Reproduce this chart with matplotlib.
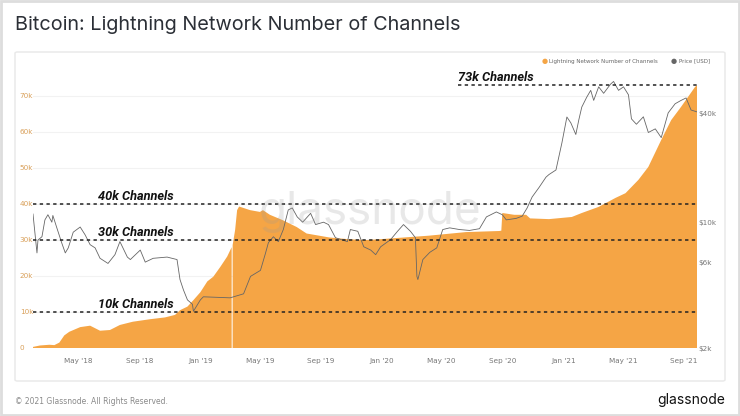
import numpy as np
import pandas as pd
import matplotlib
matplotlib.use("Agg")
import matplotlib.pyplot as plt
import matplotlib.dates as mdates
from matplotlib.patches import FancyBboxPatch, Rectangle

# Número de canais
canais_datas = ["2018-01-29", "2018-02-12", "2018-03-03", "2018-03-13", "2018-03-23", "2018-04-02",
                "2018-04-12", "2018-05-04", "2018-05-24", "2018-06-13", "2018-07-03", "2018-07-23",
                "2018-08-18", "2018-09-22", "2018-10-22", "2018-11-11", "2018-11-21", "2018-12-06",
                "2018-12-18", "2019-01-01", "2019-01-15", "2019-01-27", "2019-02-10", "2019-02-24",
                "2019-03-05", "2019-03-06", "2019-03-07", "2019-03-12", "2019-03-16", "2019-03-20",
                "2019-04-11", "2019-05-01", "2019-05-07", "2019-05-21", "2019-06-16", "2019-07-14",
                "2019-08-03", "2019-09-18", "2019-10-28", "2019-12-01", "2019-12-27", "2020-02-05",
                "2020-04-05", "2020-06-19", "2020-08-25", "2020-08-29", "2020-08-31", "2020-09-24",
                "2020-10-18", "2020-10-26", "2020-12-03", "2021-01-18", "2021-02-07", "2021-03-13",
                "2021-04-16", "2021-05-06", "2021-06-01", "2021-06-21", "2021-07-17", "2021-08-06",
                "2021-08-26", "2021-09-23", "2021-09-27"]
canais = [300, 700, 900, 800, 1500, 3500,
          4500, 5800, 6200, 4800, 5000, 6400,
          7300, 8000, 8500, 9200, 10500, 11500,
          13300, 15500, 18500, 19800, 22500, 25400,
          28000, np.nan, 28600, 32800, 38300, 39300,
          38300, 37800, 38300, 37000, 35500, 33600,
          31800, 30700, 30200, 30000, 30200, 30600,
          31200, 32200, 32500, 32600, 37500, 37000,
          37000, 36000, 35800, 36400, 37500, 39200,
          41700, 43000, 46700, 50300, 57800, 63300,
          67000, 72500, 73000]

# Preço do BTC em USD
preco_datas = ["2018-01-29", "2018-02-06", "2018-02-08", "2018-02-16", "2018-02-22", "2018-02-28",
               "2018-03-08", "2018-03-10", "2018-03-18", "2018-03-28", "2018-04-04", "2018-04-10",
               "2018-04-20", "2018-05-04", "2018-05-14", "2018-05-24", "2018-06-03", "2018-06-13",
               "2018-06-29", "2018-07-13", "2018-07-23", "2018-08-07", "2018-08-13", "2018-09-02",
               "2018-09-12", "2018-09-28", "2018-10-26", "2018-11-15", "2018-11-21", "2018-11-28",
               "2018-12-06", "2018-12-16", "2018-12-18", "2019-01-01", "2019-01-07", "2019-03-02",
               "2019-03-29", "2019-04-12", "2019-05-02", "2019-05-12", "2019-05-18", "2019-05-28",
               "2019-06-07", "2019-06-17", "2019-06-27", "2019-07-05", "2019-07-15", "2019-07-26",
               "2019-08-11", "2019-08-21", "2019-09-06", "2019-09-16", "2019-09-30", "2019-10-24",
               "2019-10-30", "2019-11-14", "2019-11-26", "2019-12-10", "2019-12-20", "2019-12-30",
               "2020-01-19", "2020-02-02", "2020-02-14", "2020-02-28", "2020-03-09", "2020-03-12",
               "2020-03-14", "2020-03-24", "2020-04-07", "2020-04-21", "2020-05-03", "2020-05-17",
               "2020-06-06", "2020-06-26", "2020-07-16", "2020-07-30", "2020-08-19", "2020-08-31",
               "2020-09-08", "2020-09-28", "2020-10-10", "2020-10-20", "2020-10-30", "2020-11-13",
               "2020-11-27", "2020-12-03", "2020-12-17", "2020-12-29", "2021-01-08", "2021-01-16",
               "2021-01-26", "2021-02-01", "2021-02-07", "2021-02-17", "2021-02-25", "2021-03-03",
               "2021-03-13", "2021-03-23", "2021-04-06", "2021-04-12", "2021-04-22", "2021-05-02",
               "2021-05-12", "2021-05-18", "2021-05-28", "2021-06-11", "2021-06-21", "2021-07-05",
               "2021-07-17", "2021-07-31", "2021-08-14", "2021-08-26", "2021-09-05", "2021-09-15",
               "2021-09-27"]
preco = [11100, 6750, 7960, 8300, 10300, 11000,
         10000, 10900, 9300, 7650, 6750, 7200,
         8800, 9400, 8500, 7500, 7200, 6300,
         5900, 6600, 7800, 6400, 6200, 7000,
         6000, 6300, 6400, 6200, 4800, 4200,
         3700, 3500, 3200, 3700, 3850, 3800,
         4000, 5000, 5400, 6700, 7700, 8300,
         7800, 9100, 11700, 12000, 10700, 10000,
         11200, 9700, 10000, 9700, 8200, 7800,
         9100, 8900, 7300, 7000, 6600, 7300,
         8000, 8900, 9700, 8900, 8200, 5000,
         4800, 6200, 6800, 7200, 9100, 9300,
         9100, 9000, 9200, 10700, 11400, 11000,
         10300, 10500, 10800, 12000, 13800, 15600,
         17800, 18400, 19500, 27600, 38400, 35600,
         30700, 37000, 43600, 49500, 54000, 47500,
         56500, 52000, 58500, 60500, 54000, 56500,
         51000, 37500, 35000, 38500, 31500, 33000,
         29500, 40500, 45500, 47500, 49000, 42000,
         41000]

# Linhas de referência
niveis = [10000, 30000, 40000]
niveis_rotulos = ["10k Channels", "30k Channels", "40k Channels"]

LARANJA = "#f5a545"
W, H = 740, 416


def fx(px):
    return px / W


def fy(py):
    return 1 - py / H


c_x = pd.to_datetime(canais_datas)
p_x = pd.to_datetime(preco_datas)

fig = plt.figure(figsize=(7.4, 4.16), dpi=100)
fig.patch.set_facecolor("white")

# moldura externa e painel (atrás dos eixos)
fig.patches.append(Rectangle((0.002, 0.003), 0.996, 0.994, transform=fig.transFigure,
                             fill=False, edgecolor="#dddddd", linewidth=2, zorder=-2))
fig.patches.append(FancyBboxPatch((fx(15), fy(381)), fx(710), 329 / H, transform=fig.transFigure,
                                  boxstyle="round,pad=0,rounding_size=0.003",
                                  facecolor="white", edgecolor="#e8e8e8", linewidth=1, zorder=-1))

fig.text(fx(15), fy(25), "Bitcoin: Lightning Network Number of Channels", fontsize=14.3,
         family="Inter", color="#2b2f36", va="center", ha="left")

ax = fig.add_axes([fx(33), fy(348), fx(697 - 33), (348 - 62) / H])
ax.patch.set_visible(False)
ax.fill_between(c_x, 0, canais, color=LARANJA, linewidth=0, zorder=2)
ax.set_ylim(0, (348 - 62) / 3.6 * 1000)
ax.set_xlim(c_x[0], c_x[-1])
ax.set_yticks(np.arange(0, 80000, 10000))
ax.set_yticklabels(["0"] + [f"{v}k" for v in range(10, 80, 10)])
for lab in ax.get_yticklabels():
    lab.set_ha("left")
ax.tick_params(axis="y", length=0, pad=9.5, labelsize=5.2, labelcolor="#d9a05a")
ax.grid(axis="y", color="#f2f2f2", linewidth=0.8, zorder=0)
ax.xaxis.set_major_locator(mdates.MonthLocator(bymonth=[1, 5, 9]))
ax.xaxis.set_major_formatter(mdates.DateFormatter("%b '%y"))
ax.tick_params(axis="x", length=0, pad=7, labelsize=5.2, labelcolor="#777777")
for s in ax.spines.values():
    s.set_visible(False)

ax2 = ax.twinx()
ax2.plot(p_x, preco, color="#666666", linewidth=0.6, zorder=3)
ax2.set_yscale("log")
ax2.set_ylim(2000, 2000 * 10 ** ((348 - 62) / 180))
ax2.set_yticks([2000, 6000, 10000, 40000])
ax2.set_yticklabels(["$2k", "$6k", "$10k", "$40k"])
ax2.yaxis.set_minor_locator(matplotlib.ticker.NullLocator())
ax2.tick_params(axis="y", length=0, pad=1, labelsize=5.2, labelcolor="#777777")
ax2.set_xlim(c_x[0], c_x[-1])
for s in ax2.spines.values():
    s.set_visible(False)

# linhas tracejadas e rótulos
fonte_rot = dict(family=["Liberation Sans Narrow", "Roboto", "DejaVu Sans"], fontsize=9.2,
                 fontweight="bold", fontstyle="italic", color="#111111")
for nivel, rot in zip(niveis, niveis_rotulos):
    ax2.plot([c_x[0], c_x[-1]], [nivel, nivel], transform=ax.transData, color="#222222",
             linewidth=1.1, linestyle=(0, (2.2, 2.2)), zorder=5)
    ax2.text(pd.Timestamp("2018-06-09"), nivel + 400, rot, transform=ax.transData,
             va="bottom", ha="left", zorder=6, **fonte_rot)
ax2.plot([pd.Timestamp("2020-06-03"), c_x[-1]], [73000, 73000], transform=ax.transData,
         color="#222222", linewidth=1.1, linestyle=(0, (2.2, 2.2)), zorder=5)
ax2.text(pd.Timestamp("2020-06-03"), 73400, "73k Channels", transform=ax.transData,
         va="bottom", ha="left", zorder=6, **fonte_rot)

# marca d'água
fig.text(fx(370), fy(212), "glassnode", fontsize=33, family="Inter", color="#999999",
         alpha=0.22, ha="center", va="center", zorder=4)

# legenda
fig.text(fx(545), fy(61), "●", fontsize=5, color=LARANJA, ha="center", va="center")
fig.text(fx(549), fy(61), "Lightning Network Number of Channels", fontsize=4.0,
         color="#666666", ha="left", va="center")
fig.text(fx(674), fy(61), "●", fontsize=5, color="#666666", ha="center", va="center")
fig.text(fx(679), fy(61), "Price [USD]", fontsize=4.0, color="#666666", ha="left", va="center")

# rodapé
fig.text(fx(15), fy(401), "© 2021 Glassnode. All Rights Reserved.", fontsize=5.5,
         color="#8a8a8a", ha="left", va="center")
fig.text(fx(725), fy(400), "glassnode", fontsize=10, family="Inter", color="#111111",
         ha="right", va="center")

fig.savefig("out.png", dpi=100)
